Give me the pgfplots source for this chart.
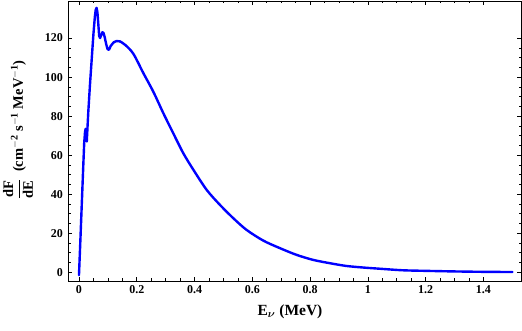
\documentclass[border=0pt]{standalone}
\usepackage{amsmath}
\usepackage{fontspec}
\setmainfont{Liberation Serif}
\usepackage{pgfplots}
\pgfplotsset{compat=1.18}
\begin{document}
\begin{tikzpicture}
\useasboundingbox (0,0) rectangle (522pt,331pt);
\begin{axis}[
  at={(68pt,50pt)}, anchor=south west,
  scale only axis,
  width=453pt, height=280pt,
  xmin=-0.038, xmax=1.53,
  ymin=-4.5, ymax=139,
  xtick={0,0.2,...,1.4},
  xticklabels={0,0.2,0.4,0.6,0.8,1,1.2,1.4},
  ytick={0,20,...,120},
  minor x tick num=3,
  minor y tick num=3,
  tick align=inside,
  major tick length=4pt,
  minor tick length=2.5pt,
  tick style={black, line width=0.6pt},
  axis line style={line width=0.8pt},
  /pgf/number format/assume math mode=true,
  ticklabel style={font=\bfseries\fontsize{12}{14}\selectfont},
  yticklabel style={xshift=-1.5pt},
  xticklabel style={yshift=-1pt},
  xlabel={\bfseries\fontsize{15.5}{17}\selectfont E$_{\boldsymbol{\nu}}$ (MeV)},
  ylabel={\bfseries\fontsize{14.5}{16}\selectfont $\mathbf{\dfrac{dF}{dE}}$\enspace(cm$^{\mathbf{-2}}$ s$^{\mathbf{-1}}$ MeV$^{\mathbf{-1}}$)},
  xlabel style={at={(axis description cs:0.49,-0.1107)}, anchor=center},
  ylabel style={at={(axis description cs:-0.1104,0.54)}, anchor=center},
]
\addplot[blue, line width=2.4pt, line join=round, line cap=round] coordinates {
(0,-1.5)(0.005,17)(0.01,36)(0.015,55)(0.018,66)(0.021,72)(0.023,73.5)(0.025,69)(0.027,67)(0.032,81.5)(0.038,96)(0.044,109)(0.05,122)(0.055,131)(0.058,134.5)(0.061,135.5)(0.064,133)(0.067,127)(0.07,121)(0.073,120)(0.077,121.5)(0.081,123)(0.085,122.6)(0.089,120.5)(0.094,117)(0.099,114.3)(0.104,114)(0.11,116)(0.12,117.8)(0.13,118.5)(0.142,118.3)
};
\addplot[blue, line width=2.4pt, smooth, tension=0.5, line cap=round] coordinates {
(0.142,118.3)(0.16,116.5)(0.188,112)(0.223,102)(0.257,92.6)(0.292,81.5)(0.326,71.3)(0.361,61)(0.396,52.5)(0.442,42.2)(0.488,34.5)(0.534,27.7)(0.58,21.7)(0.638,16.2)(0.696,12.3)(0.753,8.9)(0.811,6.3)(0.869,4.6)(0.926,3.2)(0.984,2.4)(1.04,1.8)(1.12,1.0)(1.2,0.7)(1.3,0.4)(1.4,0.2)(1.5,0.1)
};
\end{axis}
\end{tikzpicture}
\end{document}
